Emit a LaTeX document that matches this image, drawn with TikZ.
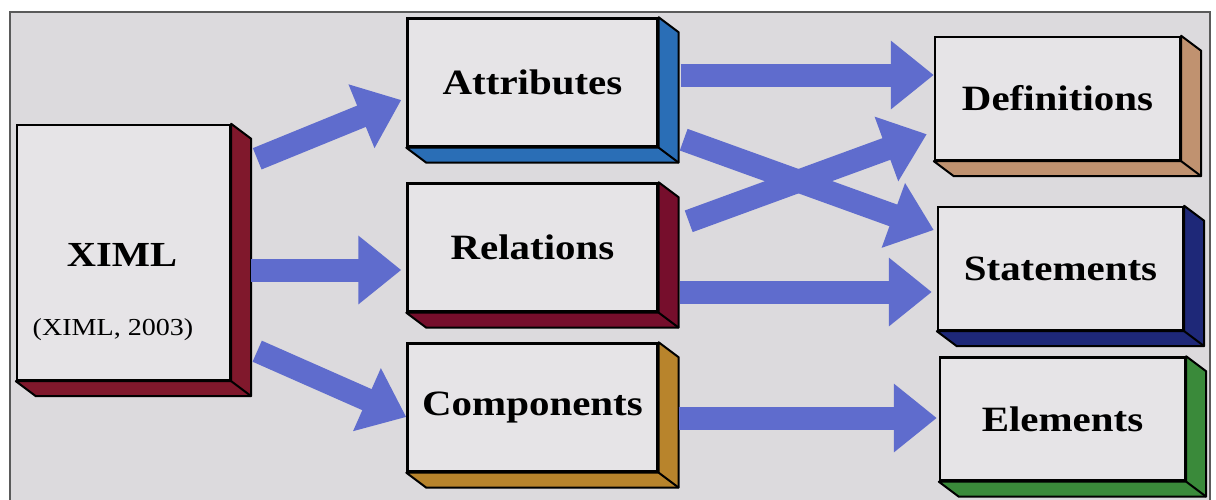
\documentclass[tikz,border=0pt]{standalone}
\usepackage{fontspec}
\setmainfont{Liberation Serif}[FakeStretch=1.15]
\usepackage{xcolor}
\usetikzlibrary{arrows.meta,calc}

\definecolor{panelgray}{RGB}{220,218,221}
\definecolor{facegray}{RGB}{230,228,231}
\definecolor{framegray}{RGB}{90,90,90}
\definecolor{arrowblue}{RGB}{95,108,205}
\definecolor{ximlred}{RGB}{128,24,44}
\definecolor{attrblue}{RGB}{42,110,182}
\definecolor{relred}{RGB}{118,14,44}
\definecolor{compochre}{RGB}{184,132,44}
\definecolor{deftan}{RGB}{192,146,112}
\definecolor{statnavy}{RGB}{30,40,120}
\definecolor{elemgreen}{RGB}{58,138,58}

% side and bottom slab of a box node
\newcommand{\slab}[2]{%
  \filldraw[fill=#2, draw=black, line width=1pt, line join=round]
    (#1.north east) -- ++(20,15) -- ($(#1.south east)+(20,15)$)
    -- ($(#1.south west)+(20,15)$) -- (#1.south west) -- (#1.south east) -- cycle;
  \draw[line width=1pt] (#1.south east) -- ++(20,15);}

\begin{document}
\begin{tikzpicture}[x=0.5pt, y=-0.5pt,
    box/.style={rectangle, draw=black, line width=1.2pt, fill=facegray, inner sep=0pt,
                font=\fontsize{17.8}{21}\selectfont\bfseries},
    midbox/.style={box, minimum width=125pt, minimum height=64pt},
    endbox/.style={box, minimum width=122.5pt, minimum height=61.5pt},
    bigarrow/.style={draw=arrowblue, line width=11.5pt,
                     -{Triangle[length=21.5pt, width=33pt]}}]
  \useasboundingbox (0,0) rectangle (1216,499);
  \fill[white] (0,0) rectangle (1216,499);
  \filldraw[fill=panelgray, draw=framegray, line width=1pt] (10,12) rectangle (1210,520);

  % boxes
  \node[box, minimum width=106.5pt, minimum height=127.5pt] (ximl) at (123.5,252.5) {};
  \node[midbox] (attr) at (532.5,82.5) {Attributes};
  \node[midbox] (rel) at (532.5,247.5) {Relations};
  \node[midbox] (comp) at (532.5,407.5) {Components};
  \node[endbox] (def) at (1057.5,98.5) {Definitions};
  \node[endbox] (stat) at (1060.5,268.5) {Statements};
  \node[endbox] (elem) at (1062.5,419) {Elements};
  \slab{ximl}{ximlred}
  \slab{attr}{attrblue}
  \slab{rel}{relred}
  \slab{comp}{compochre}
  \slab{def}{deftan}
  \slab{stat}{statnavy}
  \slab{elem}{elemgreen}

  \node[font=\fontsize{17.6}{21}\selectfont\bfseries] (ximltitle) at (122,255) {XIML};
  \node[font=\fontsize{12.2}{15}\selectfont] (ximlref) at (113,330) {(XIML, 2003)};

  % arrows
  \draw[bigarrow] ($(ximl.north east)+(26,35)$) -- ($(attr.west)+(-5,17.5)$);
  \draw[bigarrow] ($(ximl.east)+(20,17.5)$) -- ($(rel.west)+(-5,22.5)$);
  \draw[bigarrow] ($(ximl.south east)+(26,-30)$) -- ($(comp.west)+(0,9.5)$);
  \draw[bigarrow] ($(attr.east)+(22,-7.5)$) -- ($(def.west)+(0,-23.5)$);
  \draw[bigarrow] ($(attr.south east)+(25,-8)$) -- ($(stat.west)+(-3,-38.5)$);
  \draw[bigarrow] ($(rel.north east)+(30,39)$) -- ($(def.south west)+(-7,-27)$);
  \draw[bigarrow] ($(rel.east)+(21,44.5)$) -- ($(stat.west)+(-5,23.5)$);
  \draw[bigarrow] ($(comp.east)+(20,10.5)$) -- ($(elem.west)+(-2,-1)$);
\end{tikzpicture}
\end{document}
